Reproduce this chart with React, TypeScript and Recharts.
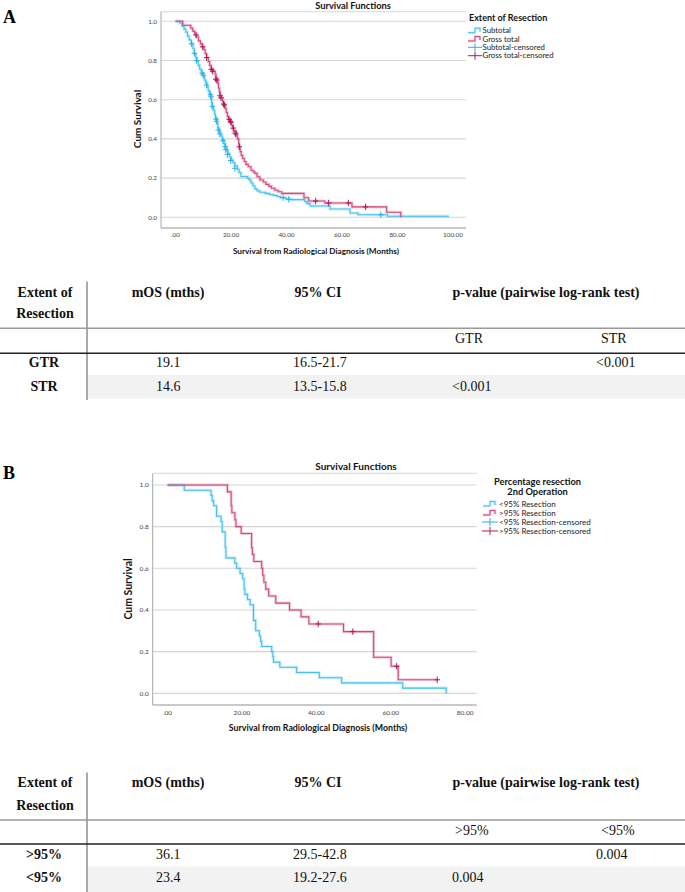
import React from 'react';
import { ComposedChart, Line, Scatter, XAxis, YAxis, CartesianGrid } from 'recharts';

const BLUE = '#45C1EC';
const RED = '#CE4B7E';
const BLUE_MARK = '#27B1E6';
const RED_MARK = '#B0185A';

// ---------- Panel A data (Extent of Resection) ----------
const monthTicksA = [0, 20, 40, 60, 80, 100];
const survTicks = [0, 0.2, 0.4, 0.6, 0.8, 1.0];

const subtotalCurve = [
  [0, 1], [1.6, 0.99], [2.4, 0.975], [3.1, 0.96], [3.7, 0.945], [4.3, 0.925], [4.9, 0.905], [5.6, 0.885],
  [6.3, 0.86], [6.8, 0.835], [7.3, 0.815], [7.7, 0.795], [8.2, 0.775], [8.7, 0.755], [9.3, 0.735], [10.1, 0.72],
  [10.5, 0.7], [10.9, 0.685], [11.3, 0.665], [11.8, 0.645], [12.3, 0.625], [12.8, 0.605], [13.0, 0.585],
  [13.3, 0.565], [13.7, 0.545], [14.1, 0.525], [14.4, 0.505], [14.9, 0.48], [15.3, 0.455], [15.8, 0.435],
  [16.3, 0.415], [16.9, 0.395], [17.5, 0.375], [18.0, 0.36], [18.5, 0.34], [18.9, 0.325], [19.5, 0.308],
  [20.1, 0.292], [20.7, 0.278], [21.4, 0.262], [22.3, 0.245], [22.9, 0.228], [23.6, 0.208], [25.9, 0.2],
  [26.5, 0.19], [27.2, 0.175], [27.9, 0.16], [28.6, 0.145], [29.4, 0.135], [30.4, 0.128], [32.3, 0.122],
  [33.8, 0.116], [35.2, 0.112], [36.6, 0.106], [37.8, 0.1], [39.8, 0.093], [41.6, 0.09], [46.6, 0.08],
  [47.4, 0.07], [48.5, 0.058], [55.7, 0.042], [62.9, 0.022], [65.8, 0.013], [76.4, 0.005], [98.6, 0.005],
];
const subtotalCensored = [
  [5.8, 0.885], [6.8, 0.837], [7.6, 0.8], [9.6, 0.735], [10.0, 0.725], [11.2, 0.675], [12.6, 0.625],
  [12.8, 0.615], [13.2, 0.565], [14.6, 0.5], [14.8, 0.49], [15.4, 0.445], [16.0, 0.425], [17.1, 0.39],
  [17.8, 0.36], [18.1, 0.345], [18.7, 0.32], [19.9, 0.29], [21.4, 0.25], [38.8, 0.1], [40.8, 0.092], [74.0, 0.013],
];
const grossTotalCurve = [
  [0, 1], [2.6, 0.98], [5.5, 0.965], [6.2, 0.95], [6.9, 0.935], [7.6, 0.92], [8.3, 0.9], [9.0, 0.885],
  [9.6, 0.87], [10.2, 0.855], [10.7, 0.835], [11.2, 0.815], [11.8, 0.795], [12.3, 0.775], [12.8, 0.755],
  [13.6, 0.745], [14.3, 0.73], [14.6, 0.705], [15.2, 0.685], [15.5, 0.66], [15.8, 0.64], [16.1, 0.62],
  [16.6, 0.605], [17.0, 0.59], [17.3, 0.575], [17.9, 0.555], [18.3, 0.535], [18.7, 0.515], [19.1, 0.5],
  [19.6, 0.485], [20.3, 0.47], [20.6, 0.455], [21.0, 0.44], [21.9, 0.42], [22.3, 0.4], [22.8, 0.375],
  [23.0, 0.355], [23.3, 0.335], [23.7, 0.315], [24.2, 0.3], [24.8, 0.285], [25.4, 0.27], [26.2, 0.258],
  [27.2, 0.24], [28.0, 0.232], [28.6, 0.224], [29.4, 0.207], [30.4, 0.19], [31.6, 0.18], [32.6, 0.168],
  [33.6, 0.158], [34.6, 0.148], [35.8, 0.138], [37.0, 0.13], [38.3, 0.122], [46.3, 0.1], [48.0, 0.083],
  [53.8, 0.073], [63.6, 0.053], [76.1, 0.026], [81.2, 0],
];
const grossTotalCensored = [
  [7.4, 0.93], [9.8, 0.87], [11.2, 0.815], [12.9, 0.755], [13.4, 0.745], [14.5, 0.705], [14.9, 0.7],
  [16.0, 0.62], [16.4, 0.61], [17.3, 0.578], [17.6, 0.573], [19.3, 0.5], [19.8, 0.49], [20.0, 0.485],
  [20.8, 0.455], [21.5, 0.43], [21.7, 0.425], [23.0, 0.36], [50.5, 0.083], [55.2, 0.073], [62.3, 0.073], [68.5, 0.053],
];

// ---------- Panel B data (Percentage resection 2nd Operation) ----------
const monthTicksB = [0, 20, 40, 60, 80];
const below95Curve = [
  [0, 1], [4.5, 0.975], [11.7, 0.95], [12.0, 0.925], [12.4, 0.9], [13.2, 0.85], [14.4, 0.825], [14.7, 0.775],
  [15.5, 0.7], [15.7, 0.65], [18.1, 0.625], [18.6, 0.6], [19.5, 0.575], [20.2, 0.55], [20.6, 0.5], [20.8, 0.475],
  [21.5, 0.45], [22.2, 0.425], [23.1, 0.35], [23.7, 0.3], [24.7, 0.275], [25.0, 0.25], [25.3, 0.225], [28.0, 0.2],
  [28.3, 0.175], [28.5, 0.15], [30.2, 0.125], [34.7, 0.1], [40.8, 0.075], [46.8, 0.05], [63.2, 0.025], [74.9, 0],
];
const below95Censored: number[][] = [];
const above95Curve = [
  [0, 1], [16.1, 0.967], [17.1, 0.9], [17.3, 0.867], [18.1, 0.833], [18.4, 0.8], [19.8, 0.767], [22.6, 0.7],
  [22.8, 0.667], [23.2, 0.633], [25.3, 0.6], [25.6, 0.567], [25.9, 0.533], [26.4, 0.5], [27.2, 0.467],
  [29.1, 0.433], [32.8, 0.4], [35.9, 0.367], [38.0, 0.333], [47.3, 0.296], [55.4, 0.173], [60.1, 0.13],
  [62.0, 0.065], [72.5, 0.065],
];
const above95Censored = [[40.5, 0.333], [49.8, 0.296], [61.6, 0.13], [72.5, 0.065]];

// ---------- Tables ----------
const tableHeader = ['mOS (mths)', '95% CI', 'p-value (pairwise log-rank test)'];
const tableARowLabels = ['GTR', 'STR'];
const tableAmOS = ['19.1', '14.6'];
const tableACI = ['16.5-21.7', '13.5-15.8'];
const tableAPcols = ['GTR', 'STR'];
const tableAPleft = ['', '<0.001'];
const tableAPright = ['<0.001', ''];

const tableBRowLabels = ['>95%', '<95%'];
const tableBmOS = ['36.1', '23.4'];
const tableBCI = ['29.5-42.8', '19.2-27.6'];
const tableBPcols = ['>95%', '<95%'];
const tableBPleft = ['', '0.004'];
const tableBPright = ['0.004', ''];

const toPts = (arr: number[][]) => arr.map(([t, s]) => ({ t, s }));

const SANS = 'Lato, "Open Sans", sans-serif';
const SERIF = '"Liberation Serif", "Times New Roman", serif';

const Cross = (props: any) => {
  const { cx, cy, fill } = props;
  if (cx == null || cy == null) return null;
  return (
    <g stroke={fill} strokeWidth={1}>
      <line x1={cx - 2.7} x2={cx + 2.7} y1={cy} y2={cy} />
      <line x1={cx} x2={cx} y1={cy - 3.2} y2={cy + 3.2} />
    </g>
  );
};

type Series = { curve: number[][]; censored: number[][]; color: string; mark: string };

function KMChart(props: {
  top: number; height: number; margin: any; xDomain: number[]; xTicks: number[]; yDomain: number[];
  series: Series[]; fontSize: number;
}) {
  const { top, height, margin, xDomain, xTicks, yDomain, series, fontSize } = props;
  return (
    <div style={{ position: 'absolute', left: 0, top, width: 685, height }}>
      <ComposedChart width={685} height={height} margin={margin}>
        <CartesianGrid horizontal vertical={false} stroke="#d6d6d6" strokeWidth={1.1} />
        <XAxis
          type="number" dataKey="t" domain={xDomain} ticks={xTicks} allowDataOverflow
          tickFormatter={(v: number) => (v === 0 ? '.00' : v.toFixed(2))}
          tick={{ fontSize, fill: '#444', fontFamily: SANS }} tickLine={false} tickSize={0} tickMargin={5}
          axisLine={{ stroke: '#a8a8a8' }} height={20}
        />
        <YAxis
          type="number" dataKey="s" domain={yDomain} ticks={survTicks} allowDataOverflow
          tickFormatter={(v: number) => v.toFixed(1)}
          tick={{ fontSize, fill: '#444', fontFamily: SANS }} tickLine={false} tickSize={0} tickMargin={4}
          axisLine={{ stroke: '#a8a8a8' }} width={40}
        />
        {series.map((s, i) => (
          <Line key={'h' + i} data={toPts(s.curve)} dataKey="s" type="stepAfter" stroke={s.color}
            strokeOpacity={0.28} strokeWidth={3} dot={false} isAnimationActive={false} />
        ))}
        {series.map((s, i) => (
          <Line key={'l' + i} data={toPts(s.curve)} dataKey="s" type="stepAfter" stroke={s.color}
            strokeWidth={1.1} dot={false} isAnimationActive={false} />
        ))}
        {series.map((s, i) => (
          <Scatter key={'c' + i} data={toPts(s.censored)} dataKey="s" fill={s.mark}
            shape={(p: any) => <Cross cx={p.cx} cy={p.cy} fill={s.mark} />} isAnimationActive={false} />
        ))}
      </ComposedChart>
    </div>
  );
}

const StepIcon = ({ x, y, color }: { x: number; y: number; color: string }) => (
  <g>
    <path d={`M${x},${y + 2} H${x + 7} V${y - 2.5} H${x + 12} V${y + 1}`} fill="none" stroke={color} strokeOpacity={0.3} strokeWidth={2.6} />
    <path d={`M${x},${y + 2} H${x + 7} V${y - 2.5} H${x + 12} V${y + 1}`} fill="none" stroke={color} strokeWidth={1} />
  </g>
);
const CrossIcon = ({ x, y, color, w }: { x: number; y: number; color: string; w: number }) => (
  <g stroke={color} strokeWidth={1}>
    <line x1={x} x2={x + w} y1={y} y2={y} />
    <line x1={x + w / 2} x2={x + w / 2} y1={y - 4} y2={y + 4} />
  </g>
);

function Table(props: {
  header1: number; header2: number; grayLine: number; subY: number; darkLine: number;
  row1: number; row2: number; bandTop: number; bandBottom: number; vTop: number; vBottom: number;
  labels: string[]; mos: string[]; ci: string[]; pcols: string[]; pl: string[]; pr: string[];
}) {
  const p = props;
  const fs = 14;
  return (
    <g fontFamily={SERIF} fontSize={fs} fill="#111">
      <rect x={88} y={p.bandTop} width={597} height={p.bandBottom - p.bandTop} fill="#f2f2f2" />
      <line x1={87} x2={87} y1={p.vTop} y2={p.vBottom} stroke="#555" strokeWidth={1} />
      <line x1={0} x2={685} y1={p.grayLine} y2={p.grayLine} stroke="#9a9a9a" strokeWidth={1.6} />
      <line x1={0} x2={685} y1={p.darkLine} y2={p.darkLine} stroke="#222" strokeWidth={1.4} />
      <text x={45} y={p.header1 + 5} textAnchor="middle" fontWeight="bold">Extent of</text>
      <text x={45} y={p.header2 + 5} textAnchor="middle" fontWeight="bold">Resection</text>
      <text x={168} y={p.header1 + 5} textAnchor="middle" fontWeight="bold">{tableHeader[0]}</text>
      <text x={318} y={p.header1 + 5} textAnchor="middle" fontWeight="bold">{tableHeader[1]}</text>
      <text x={546} y={p.header1 + 5} textAnchor="middle" fontWeight="bold">{tableHeader[2]}</text>
      <text x={455} y={p.subY + 5}>{p.pcols[0]}</text>
      <text x={601} y={p.subY + 5}>{p.pcols[1]}</text>
      {[p.row1, p.row2].map((ry, i) => (
        <g key={i}>
          <text x={44} y={ry + 5} textAnchor="middle" fontWeight="bold">{p.labels[i]}</text>
          <text x={156} y={ry + 5}>{p.mos[i]}</text>
          <text x={293} y={ry + 5}>{p.ci[i]}</text>
          <text x={452} y={ry + 5}>{p.pl[i]}</text>
          <text x={596} y={ry + 5}>{p.pr[i]}</text>
        </g>
      ))}
    </g>
  );
}

export default function App() {
  const xTitle = 'Survival from Radiological Diagnosis (Months)';
  return (
    <div style={{ position: 'absolute', left: 0, top: 0, width: 685, height: 892, background: '#fff', overflow: 'hidden' }}>
      <KMChart
        top={0} height={260}
        margin={{ top: 11.7, right: 219, bottom: 12, left: 121 }}
        xDomain={[-5.23, 104.7]} xTicks={monthTicksA} yDomain={[-0.0546, 1.049]} fontSize={6.3}
        series={[
          { curve: subtotalCurve, censored: subtotalCensored, color: BLUE, mark: BLUE_MARK },
          { curve: grossTotalCurve, censored: grossTotalCensored, color: RED, mark: RED_MARK },
        ]}
      />
      <KMChart
        top={440} height={290}
        margin={{ top: 33.3, right: 208.3, bottom: 5, left: 112.7 }}
        xDomain={[-3.98, 83.1]} xTicks={monthTicksB} yDomain={[-0.056, 1.056]} fontSize={6.5}
        series={[
          { curve: below95Curve, censored: below95Censored, color: BLUE, mark: BLUE_MARK },
          { curve: above95Curve, censored: above95Censored, color: RED, mark: RED_MARK },
        ]}
      />
      <svg width={685} height={892} style={{ position: 'absolute', left: 0, top: 0, pointerEvents: 'none' }}>
        {/* Panel A labels */}
        <text x={3} y={23} fontFamily={SERIF} fontWeight="bold" fontSize={18} fill="#000">A</text>
        <text x={353} y={8.5} textAnchor="middle" fontFamily={SANS} fontWeight="bold" fontSize={9.3} fill="#111">Survival Functions</text>
        <text transform="translate(140.5,119) rotate(-90)" textAnchor="middle" fontFamily={SANS} fontWeight="bold" fontSize={10} fill="#111">Cum Survival</text>
        <text x={316} y={254} textAnchor="middle" fontFamily={SANS} fontWeight="bold" fontSize={8.2} fill="#111">{xTitle}</text>
        <text x={469} y={21} fontFamily={SANS} fontWeight="bold" fontSize={9} fill="#111">Extent of Resection</text>
        <g fontFamily={SANS} fontSize={7.8} fill="#222">
          <StepIcon x={468} y={30.7} color={BLUE} />
          <text x={482.5} y={33.3}>Subtotal</text>
          <StepIcon x={468} y={39} color={RED} />
          <text x={482.5} y={41.6}>Gross total</text>
          <CrossIcon x={468} y={47.3} color={BLUE_MARK} w={14} />
          <text x={482.5} y={49.9}>Subtotal-censored</text>
          <CrossIcon x={468} y={55.7} color={RED_MARK} w={14} />
          <text x={482.5} y={58.3}>Gross total-censored</text>
        </g>

        {/* Panel B labels */}
        <text x={3} y={479} fontFamily={SERIF} fontWeight="bold" fontSize={18} fill="#000">B</text>
        <text x={356} y={470} textAnchor="middle" fontFamily={SANS} fontWeight="bold" fontSize={10} fill="#111">Survival Functions</text>
        <text transform="translate(132,589) rotate(-90)" textAnchor="middle" fontFamily={SANS} fontWeight="bold" fontSize={10.5} fill="#111">Cum Survival</text>
        <text x={318} y={731} textAnchor="middle" fontFamily={SANS} fontWeight="bold" fontSize={8.8} fill="#111">{xTitle}</text>
        <text x={537.5} y={485} textAnchor="middle" fontFamily={SANS} fontWeight="bold" fontSize={9.3} fill="#111">Percentage resection</text>
        <text x={537.5} y={494.5} textAnchor="middle" fontFamily={SANS} fontWeight="bold" fontSize={9.3} fill="#111">2nd Operation</text>
        <g fontFamily={SANS} fontSize={8} fill="#222">
          <StepIcon x={483} y={504} color={BLUE} />
          <text x={499} y={506.8}>&lt;95% Resection</text>
          <StepIcon x={483} y={513} color={RED} />
          <text x={499} y={515.8}>&gt;95% Resection</text>
          <CrossIcon x={482} y={522} color={BLUE_MARK} w={16} />
          <text x={499} y={524.8}>&lt;95% Resection-censored</text>
          <CrossIcon x={482} y={531} color={RED_MARK} w={16} />
          <text x={499} y={533.8}>&gt;95% Resection-censored</text>
        </g>

        <Table
          header1={291.7} header2={313.3} grayLine={328.3} subY={338.3} darkLine={353.3}
          row1={361.7} row2={386} bandTop={375} bandBottom={398.5} vTop={281.5} vBottom={400}
          labels={tableARowLabels} mos={tableAmOS} ci={tableACI} pcols={tableAPcols} pl={tableAPleft} pr={tableAPright}
        />
        <Table
          header1={782} header2={804.5} grayLine={820} subY={830} darkLine={844}
          row1={853.5} row2={877} bandTop={866.5} bandBottom={892} vTop={772.5} vBottom={892}
          labels={tableBRowLabels} mos={tableBmOS} ci={tableBCI} pcols={tableBPcols} pl={tableBPleft} pr={tableBPright}
        />
      </svg>
    </div>
  );
}
